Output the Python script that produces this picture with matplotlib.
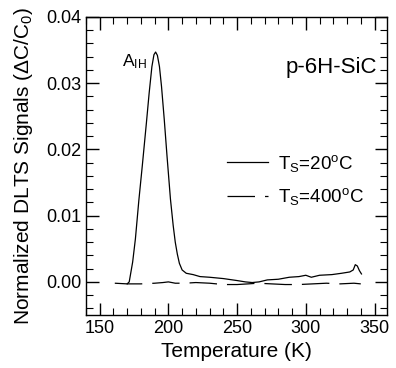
import numpy as np
import matplotlib
matplotlib.use("Agg")
import matplotlib.pyplot as plt
from matplotlib.ticker import MultipleLocator

# フォント設定（Arial風）
plt.rcParams['font.family'] = ['Liberation Sans', 'DejaVu Sans']
plt.rcParams['mathtext.fontset'] = 'custom'
plt.rcParams['mathtext.rm'] = 'Liberation Sans'
plt.rcParams['mathtext.it'] = 'Liberation Sans:italic'
plt.rcParams['mathtext.bf'] = 'Liberation Sans:bold'

# Ts = 20°C の DLTS 信号
temp_20 = [170, 171.5, 174, 176, 178.5, 181, 184, 186, 188, 189.5, 190.7, 192,
           193.5, 195, 197, 199, 201.5, 203.5, 205, 206.5, 208, 210, 213, 218,
           223, 230, 240, 250, 256, 261, 266, 272, 280, 288, 295, 300, 304,
           310, 319, 326, 332, 334.5, 336, 337.5, 339, 340.5]
signal_20 = [-0.0003, 0.0, 0.003, 0.0065, 0.0123, 0.0175, 0.0240, 0.0285,
             0.0325, 0.0343, 0.0347, 0.0342, 0.0325, 0.0295, 0.0245, 0.0190,
             0.0125, 0.0085, 0.0060, 0.0042, 0.0028, 0.0018, 0.0013, 0.0011,
             0.0008, 0.0007, 0.0005, 0.0002, 0.0, -0.0001, 0.0, 0.0003, 0.0004,
             0.0007, 0.0008, 0.0010, 0.0007, 0.0010, 0.0011, 0.0013, 0.0015,
             0.0018, 0.0026, 0.0024, 0.0017, 0.0012]

# Ts = 400°C の DLTS 信号
temp_400 = [161, 170, 180, 190, 196, 200, 205, 212, 220, 230, 240, 250, 258,
            265, 275, 285, 295, 305, 315, 325, 335, 340]
signal_400 = [-0.0002, -0.0003, -0.0003, -0.0002, -0.0001, 0.0, -0.0002,
              -0.0002, -0.0001, -0.0002, -0.0004, -0.0004, -0.0003, -0.0002,
              -0.0003, -0.0004, -0.0004, -0.0003, -0.0002, -0.0003, -0.0002,
              -0.0003]

labels = [r'T$_\mathrm{S}$=20$^\mathrm{o}$C', r'T$_\mathrm{S}$=400$^\mathrm{o}$C']

fig = plt.figure(figsize=(3.96, 3.68), dpi=100)
ax = fig.add_axes([0.217, 0.144, 0.76, 0.81])

ax.plot(temp_20, signal_20, color='black', lw=0.9, label=labels[0])
ax.plot(temp_400, signal_400, color='black', lw=0.9, dashes=(22, 8), label=labels[1])

ax.set_xlim(140, 359)
ax.set_ylim(-0.005, 0.04)
ax.xaxis.set_major_locator(MultipleLocator(50))
ax.xaxis.set_minor_locator(MultipleLocator(10))
ax.yaxis.set_major_locator(MultipleLocator(0.01))
ax.yaxis.set_minor_locator(MultipleLocator(0.002))
ax.yaxis.set_major_formatter(matplotlib.ticker.FormatStrFormatter('%.2f'))
ax.tick_params(which='both', direction='in', top=True, right=True, labelsize=13)
ax.tick_params(which='major', length=9, width=1)
ax.tick_params(which='minor', length=5, width=0.8)
for s in ax.spines.values():
    s.set_linewidth(1.0)

ax.set_xlabel('Temperature (K)', fontsize=15, labelpad=4)
ax.set_ylabel(r'Normalized DLTS Signals ($\Delta$C/C$_\mathrm{0}$)', fontsize=15, labelpad=8)

ax.text(166, 0.0332, r'A$_\mathrm{IH}$', fontsize=12.5, ha='left', va='center')
ax.text(352, 0.0323, 'p-6H-SiC', fontsize=16, ha='right', va='center')

ax.legend(loc='upper left', bbox_to_anchor=(0.468, 0.545), frameon=False,
          fontsize=13.5, handlelength=2.2, handletextpad=0.53, labelspacing=0.67,
          borderpad=0, borderaxespad=0)

fig.savefig('out.png', dpi=100)
